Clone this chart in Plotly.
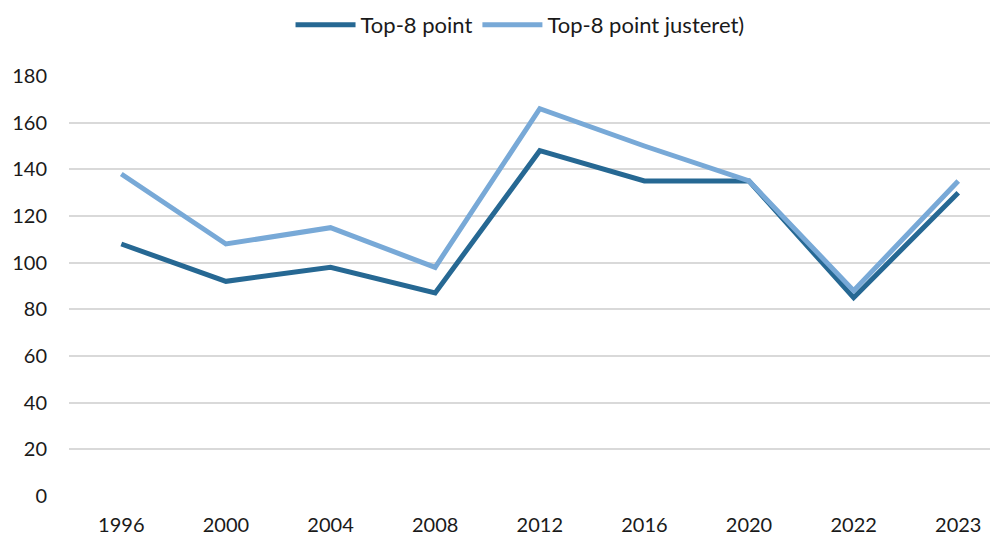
import plotly.graph_objects as go

years = ["1996", "2000", "2004", "2008", "2012", "2016", "2020", "2022", "2023"]
top8 = [108, 92, 98, 87, 148, 135, 135, 85, 130]
top8_adj = [138, 108, 115, 98, 166, 150, 135, 88, 135]

font_family = "Lato, Open Sans, sans-serif"

fig = go.Figure()
fig.add_trace(go.Scatter(
    x=years, y=top8, mode="lines", name="Top-8 point",
    line=dict(color="#266893", width=5)
))
fig.add_trace(go.Scatter(
    x=years, y=top8_adj, mode="lines", name="Top-8 point justeret)",
    line=dict(color="#78A9D7", width=5)
))

# page body keeps its default 8px margin, so the figure is sized to fit inside it
fig.update_layout(
    width=990, height=528,
    margin=dict(l=61, r=0, t=68, b=40),
    paper_bgcolor="white", plot_bgcolor="white",
    font=dict(family=font_family, size=20, color="#1a1a1a"),
    legend=dict(
        orientation="h", x=0.4855, xanchor="center",
        yref="container", y=0.968, yanchor="middle",
        font=dict(size=22), itemwidth=60, traceorder="normal",
    ),
    xaxis=dict(
        type="category", showgrid=False, showline=False, zeroline=False,
        ticks="", range=[-0.5, 8.38], tickfont=dict(size=20),
        automargin=False, ticklabelstandoff=15,
    ),
    yaxis=dict(
        range=[0, 180], dtick=20, showgrid=True, gridcolor="#D9D9D9",
        gridwidth=1.5, zeroline=False, showline=False, ticks="",
        ticklabelstandoff=21, tickfont=dict(size=20), automargin=False,
    ),
)

fig.write_html("out.html")
